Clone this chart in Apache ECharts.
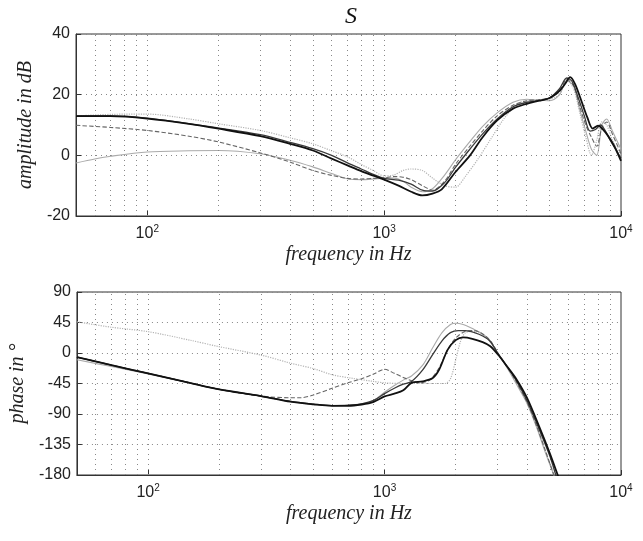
<!DOCTYPE html>
<html><head><meta charset="utf-8">
<script src="https://cdn.jsdelivr.net/npm/echarts@6/dist/echarts.min.js"></script>
<style>html,body{margin:0;padding:0;background:#fff}#c{width:643px;height:541px}</style>
</head><body><div id="c"></div>
<script>
// ---------- axis / tick data ----------
const gridFreqs = [60,70,80,90,100,200,300,400,500,600,700,800,900,1000,2000,3000,4000,5000,6000,7000,8000,9000];
const ampTicks = [-20, 0, 20, 40];
const phaseTicks = [-180, -135, -90, -45, 0, 45, 90];

// ---------- amplitude curves (dB) ----------
const ampA_f = [50,70,100,150,200,300,400,500,600,700,800,900,1000,1150,1300,1450,1600,1750,2000,2300,2600,3000,3500,4000,4500,5000,5500,5800,6100,6400,6800,7200,7600,8000,8400,8800,9300,10000];
const ampA_v = [12.9,12.9,12.1,10.4,8.8,6.3,3.8,1.6,-1.1,-3.3,-5.2,-6.7,-8.0,-10.0,-12.0,-13.2,-12.6,-11.2,-5.5,-0.1,5.9,11.5,15.4,17.0,18.0,18.9,21.3,23.5,25.8,23.5,18.0,12.6,8.8,9.8,8.5,6.5,3.5,-1.8];

const ampB_f = [50,70,100,200,300,400,500,600,700,800,900,1000,1150,1300,1450,1600,1800,2000,2300,2600,3000,3500,4000,4500,5000,5500,5900,6200,6600,7000,7400,7800,8200,8600,9000,9500,10000];
const ampB_v = [13.0,13.0,12.3,9.0,6.8,4.3,2.2,0.0,-2.5,-4.5,-6.3,-7.6,-8.2,-9.5,-11.5,-11.8,-9.0,-4.0,2.0,7.0,12.0,16.0,17.5,18.0,19.0,22.0,25.5,24.5,19.0,13.0,8.0,8.5,10.0,8.0,5.0,2.0,-1.0];

const ampC_f = [50,70,100,150,200,300,400,500,600,700,800,900,1000,1100,1200,1300,1450,1600,1800,2000,2300,2600,3000,3500,4000,4500,5000,5500,5900,6300,6700,7100,7500,7900,8300,8700,9200,10000];
const ampC_v = [9.9,9.2,8.2,6.3,4.4,0.8,-2.2,-5.0,-6.6,-7.6,-7.8,-7.6,-7.4,-7.0,-7.2,-8.0,-10.0,-11.5,-8.5,-3.0,3.0,8.0,13.0,16.5,18.0,18.3,19.0,21.0,25.0,23.0,16.0,10.0,6.0,3.0,9.0,11.0,7.0,0.5];

const ampD_f = [50,60,70,100,150,200,300,400,500,600,700,800,900,1000,1100,1200,1300,1450,1600,1800,2000,2300,2600,3000,3500,4000,4500,5000,5500,5900,6300,6700,7100,7500,7900,8300,8700,9200,10000];
const ampD_v = [-2.5,-1.2,-0.3,1.1,1.5,1.6,0.5,-1.6,-3.8,-6.0,-7.7,-8.0,-7.8,-7.5,-7.5,-8.5,-10.5,-12.0,-11.0,-6.5,-1.5,4.5,9.5,14.0,17.5,18.5,18.2,18.0,20.0,24.5,23.0,15.0,8.0,2.0,0.0,10.0,12.0,8.0,2.0];

const ampE_f = [50,70,100,150,200,300,400,500,600,700,800,900,1000,1100,1200,1300,1450,1600,1800,2000,2200,2500,2800,3200,3600,4000,4500,5000,5500,5900,6300,6700,7100,7500,7900,8300,8700,9200,10000];
const ampE_v = [13.0,13.5,13.6,12.0,10.4,8.2,5.8,3.8,1.5,-0.5,-3.0,-5.0,-6.8,-6.5,-5.0,-4.5,-5.0,-7.5,-10.0,-10.5,-7.0,-1.0,5.0,12.0,16.5,18.0,18.0,18.5,20.0,25.0,22.0,14.0,6.0,0.0,5.0,11.0,10.0,5.0,0.0];

// ---------- phase curves (deg) ----------
const phA_f = [50,70,100,150,200,300,400,500,600,700,800,900,1000,1100,1200,1300,1450,1600,1700,1850,2000,2150,2350,2600,2800,3030,3300,3600,4000,4500,5000,5400,5800];
const phA_v = [-6,-18,-30,-44,-53.6,-63.5,-71.8,-75.7,-78,-78,-76,-72,-64,-60,-55,-44,-42,-37,-25,5,19,23,21,16,10,-3,-20,-38,-66,-108,-148,-180,-210];

const phB_f = [50,70,100,150,200,300,400,500,600,700,800,900,1000,1100,1200,1300,1450,1600,1750,1900,2050,2200,2400,2600,2800,3030,3300,3600,4000,4500,5000,5300,5700];
const phB_v = [-6,-18,-30,-44,-53.6,-63.5,-71.5,-75.5,-77.5,-77,-75,-70,-60,-52,-46,-42,-25,-2,18,30,33,33,30,25,17,-2,-20,-40,-70,-112,-152,-180,-215];

// curve with the bump near 1 kHz (mid grey, dashed)
const phC_f = [50,70,100,150,200,300,400,440,500,600,700,800,900,1000,1100,1200,1300,1400,1550,1700,1850,2000,2200,2400,2600,2800,3030,3300,3600,4000,4400,4800,5200,5600];
const phC_v = [-6,-18,-30,-44,-53.6,-63.5,-66,-66,-62,-52,-44,-38,-31,-24,-30,-36,-41,-44,-40,-22,5,22,32,33,28,18,-1,-20,-42,-72,-108,-145,-180,-212];

// curve with the highest peak (light grey)
const phD_f = [50,70,100,150,200,300,400,500,600,700,800,900,1000,1100,1200,1300,1450,1600,1750,1900,2000,2150,2350,2600,2800,3030,3300,3600,4000,4400,4800,5200,5600];
const phD_v = [-10,-20,-31,-44,-53.6,-63.5,-71.8,-75.7,-77.5,-77.5,-75,-70,-58,-48,-40,-34,-18,8,30,42,44,42,36,28,18,-2,-22,-45,-74,-110,-148,-180,-210];

const phE_f = [50,70,100,150,200,300,400,500,600,720,900,1000,1200,1400,1600,1800,1900,2000,2100,2200,2400,2700,3030,3300,3600,4000,4400,4800,5200,5600];
const phE_v = [46,38,31.5,19,9.3,-3,-15,-23,-32,-37,-42,-44,-45,-45,-45,-45,-38,-10,18,30,32,22,-1,-20,-42,-72,-108,-145,-180,-212];

// ---------- build ----------
const pair = (f, v) => f.map((x, i) => [x, v[i]]);
const styles = [
  {color:'#111', width:1.8, type:'solid'},
  {color:'#3a3a3a', width:1.3, type:'solid'},
  {color:'#666', width:1.1, type:'dashed'},
  {color:'#aaa', width:1.1, type:'solid'},
  {color:'#b4b4b4', width:1.2, type:'dotted'}
];
const serifFont = 'Liberation Serif';
const sansFont = 'Liberation Sans';

function logLabel(value) {
  const e = Math.round(Math.log10(value));
  if (Math.abs(Math.pow(10, e) - value) < 1e-6 * value) return '{b|10}{s|' + e + '}';
  return '';
}

function xAxisCfg(gi) {
  return {
    type: 'log', logBase: 10, min: 50, max: 10000, gridIndex: gi,
    name: 'frequency in Hz', nameLocation: 'middle', nameGap: 26,
    nameTextStyle: {fontFamily: serifFont, fontStyle: 'italic', fontSize: 20, color: '#222'},
    axisLine: {show: true, onZero: false, lineStyle: {color: '#333', width: 1}},
    axisTick: {show: true, inside: true, length: 5, lineStyle: {color: '#333'}},
    splitLine: {show: false},
    axisLabel: {
      formatter: logLabel, margin: 8, showMinLabel: true, showMaxLabel: true,
      rich: {
        b: {fontFamily: sansFont, fontSize: 16, color: '#222', lineHeight: 20},
        s: {fontFamily: sansFont, fontSize: 10, color: '#222', verticalAlign: 'top', lineHeight: 20, padding: [0, 0, 10, 0]}
      }
    }
  };
}
function yAxisCfg(gi, min, max, interval, name) {
  return {
    type: 'value', gridIndex: gi, min: min, max: max, interval: interval,
    name: name, nameLocation: 'middle', nameGap: 40, nameRotate: 90,
    nameTextStyle: {fontFamily: serifFont, fontStyle: 'italic', fontSize: 20, color: '#222'},
    axisLine: {show: true, lineStyle: {color: '#333', width: 1}},
    axisTick: {show: true, inside: true, length: 5, lineStyle: {color: '#333'}},
    axisLabel: {fontFamily: sansFont, fontSize: 16, color: '#222', margin: 6},
    splitLine: {show: true, lineStyle: {type: [1, 4], color: '#888', width: 1}}
  };
}

const ampSets = [[ampA_f, ampA_v],[ampB_f, ampB_v],[ampC_f, ampC_v],[ampD_f, ampD_v],[ampE_f, ampE_v]];
const phSets = [[phA_f, phA_v],[phB_f, phB_v],[phC_f, phC_v],[phD_f, phD_v],[phE_f, phE_v]];

const series = [];
[0, 1].forEach(gi => {
  series.push({
    type: 'line', xAxisIndex: gi, yAxisIndex: gi, data: [], silent: true, z: 1,
    markLine: {
      silent: true, symbol: 'none', animation: false,
      label: {show: false},
      lineStyle: {type: [1, 4], color: '#888', width: 1},
      data: gridFreqs.map(f => ({xAxis: f}))
    }
  });
});
const order = [4, 3, 2, 1, 0];
order.forEach(k => {
  const st = styles[k];
  series.push({type: 'line', xAxisIndex: 0, yAxisIndex: 0, data: pair(ampSets[k][0], ampSets[k][1]),
    showSymbol: false, smooth: 0.3, clip: true, z: 2 + (4 - k),
    lineStyle: {color: st.color, width: st.width, type: st.type}, animation: false});
  series.push({type: 'line', xAxisIndex: 1, yAxisIndex: 1, data: pair(phSets[k][0], phSets[k][1]),
    showSymbol: false, smooth: 0.3, clip: true, z: 2 + (4 - k),
    lineStyle: {color: st.color, width: st.width, type: st.type}, animation: false});
});

const chart = echarts.init(document.getElementById('c'), null, {renderer: 'canvas'});
chart.setOption({
  backgroundColor: '#fff',
  animation: false,
  title: {text: 'S', left: 340, top: 0, textStyle: {fontFamily: serifFont, fontStyle: 'italic', fontWeight: 'normal', fontSize: 24, color: '#111'}},
  grid: [
    {left: 76, top: 34, width: 545, height: 182, show: true, borderColor: '#333', borderWidth: 1, backgroundColor: 'transparent'},
    {left: 76, top: 292, width: 545, height: 183, show: true, borderColor: '#333', borderWidth: 1, backgroundColor: 'transparent'}
  ],
  xAxis: [xAxisCfg(0), xAxisCfg(1)],
  yAxis: [yAxisCfg(0, -20, 40, 20, 'amplitude in dB'), yAxisCfg(1, -180, 90, 45, 'phase in \u00B0')],
  series: series
});
</script></body></html>
